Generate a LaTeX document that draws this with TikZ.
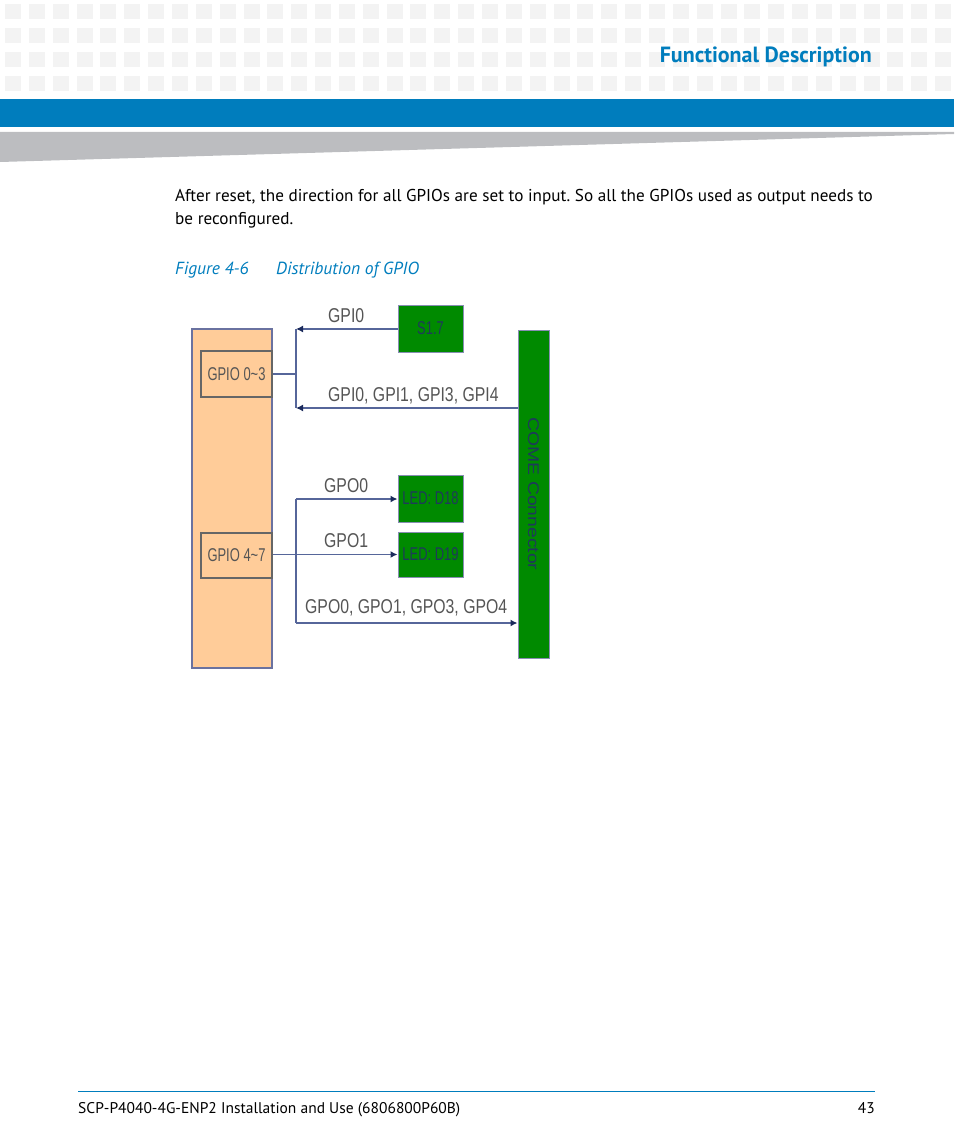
\documentclass[tikz,border=0pt]{standalone}
\usepackage{fontspec}
\setmainfont{PT Sans}
\newfontfamily\figfont{Liberation Sans}[FakeStretch=0.79]
\newfontfamily\partfont{Liberation Sans}[FakeStretch=0.7]
\newfontfamily\connfont{Liberation Sans}[FakeStretch=1.25]
\usepackage{xcolor}
\definecolor{headBlue}  {HTML}{007DBD}
\definecolor{tileGray}  {HTML}{F3F3F3}
\definecolor{wedgeGray} {HTML}{BCBDC0}
\definecolor{boardBack} {HTML}{FFCC99}
\definecolor{boardLine} {HTML}{6A72A0}
\definecolor{partGreen} {HTML}{008A00}
\definecolor{partText}  {HTML}{1E3A5A}
\definecolor{wireBlue}  {HTML}{56669A}
\definecolor{tipBlue}   {HTML}{1B2A5C}
\definecolor{labelGray} {HTML}{555555}
\usetikzlibrary{arrows.meta, positioning, calc}

\tikzset{
    board/.style={draw=boardLine, fill=boardBack, line width=1.2, inner sep=0pt},
    gpiobox/.style={draw=labelGray!90, line width=1.2, inner sep=0pt,
        minimum width=71, minimum height=46, text=labelGray,
        font=\partfont\fontsize{18.5}{20}\selectfont},
    part/.style={draw=boardLine!80, fill=partGreen, line width=1, inner sep=0pt,
        text=partText, font=\partfont\fontsize{18.5}{20}\selectfont},
    wire/.style={draw=wireBlue, line width=1.5},
    wirearrow/.style={wire, -{Latex[length=7,width=7,color=tipBlue]}},
    siglabel/.style={anchor=west, inner sep=0pt, text=labelGray,
        font=\figfont\fontsize{20}{22}\selectfont},
}

\begin{document}
\frenchspacing
\begin{tikzpicture}[x=1pt, y=-1pt]
    \useasboundingbox (0,0) rectangle (954,1145);

    % --- page head: tiles, blue band, grey wedge ---
    \foreach \r in {0,...,3}
        \foreach \c in {0,...,39}
            \fill[tileGray] ({5+23.85*\c},{4+24*\r}) rectangle +(16,15);
    \node[anchor=base east, inner sep=0pt, text=headBlue,
        font=\bfseries\fontsize{22}{26}\selectfont] (chapter) at (872,63) {Functional Description};
    \fill[headBlue] (0,99) rectangle (954,127);
    \fill[wedgeGray] (0,132) -- (954,132) -- (954,134) -- (0,162) -- cycle;

    % --- text and caption ---
    \node[anchor=base west, inner sep=0pt, align=left,
        font=\fontsize{17.15}{23}\selectfont] (para) at (175,224)
        {After reset, the direction for all GPIOs are set to input. So all the GPIOs used as output needs to\\
         be reconfigured.};
    \node[anchor=base west, inner sep=0pt, text=headBlue,
        font=\itshape\fontsize{17.5}{21}\selectfont] (fignum) at (175,274) {Figure 4-6};
    \node[anchor=base west, inner sep=0pt, text=headBlue,
        font=\itshape\fontsize{17.5}{21}\selectfont] (figtitle) at (276,274) {Distribution of GPIO};

    % --- the board with its two GPIO groups ---
    \node[board, minimum width=80, minimum height=339] (cpu) at (232,498.5) {};
    \node[gpiobox] (gpioA) at (236.5,374) {GPIO 0\char`~3};
    \node[gpiobox, minimum height=45] (gpioB) at (236.5,555.5) {GPIO 4\char`~7};

    % --- parts on the right ---
    \node[part, minimum width=65, minimum height=47] (sw) at (430.5,328.5) {S1.7};
    \node[part, minimum width=65, minimum height=47] (ledA) at (430.5,498.5) {LED: D18};
    \node[part, minimum width=65, minimum height=45] (ledB) at (430.5,554.5) {LED: D19};
    \node[part, minimum width=31, minimum height=328] (come) at (533.5,494)
        {\rotatebox{-90}{\connfont\fontsize{15.5}{17}\selectfont COME Connector}};

    % --- input side ---
    \coordinate (inTop) at (296,329);
    \coordinate (inBot) at (296,408);
    \draw[wire] (gpioA.east) -- (gpioA.east -| inTop);
    \draw[wire] (inTop) -- (inBot);
    \draw[wirearrow] (sw.west |- inTop) -- (inTop);
    \draw[wirearrow] (come.west |- inBot) -- (inBot);
    \node[siglabel] (lblA) at (328,316) {GPI0};
    \node[siglabel] (lblB) at (328,396) {GPI0, GPI1, GPI3, GPI4};

    % --- output side ---
    \coordinate (outTop) at (296,499);
    \coordinate (outBot) at (296,623);
    \draw[wire] (outTop) -- (outBot);
    \draw[wirearrow] (outTop) -- (ledA.west |- outTop);
    \draw[wirearrow] (gpioB.east |- ledB.west) -- (ledB.west);
    \draw[wirearrow] (outBot) -- (come.west |- outBot);
    \node[siglabel] (lblC) at (324,486) {GPO0};
    \node[siglabel] (lblD) at (324,541) {GPO1};
    \node[siglabel] (lblE) at (305,608) {GPO0, GPO1, GPO3, GPO4};

    % --- page foot ---
    \draw[headBlue, line width=1] (78,1091) -- (875,1091);
    \node[anchor=base west, inner sep=0pt, font=\fontsize{15.5}{18}\selectfont] (foot) at (78,1113)
        {SCP-P4040-4G-ENP2 Installation and Use (6806800P60B)};
    \node[anchor=base east, inner sep=0pt, font=\fontsize{15.5}{18}\selectfont] (page) at (875,1113) {43};
\end{tikzpicture}
\end{document}
